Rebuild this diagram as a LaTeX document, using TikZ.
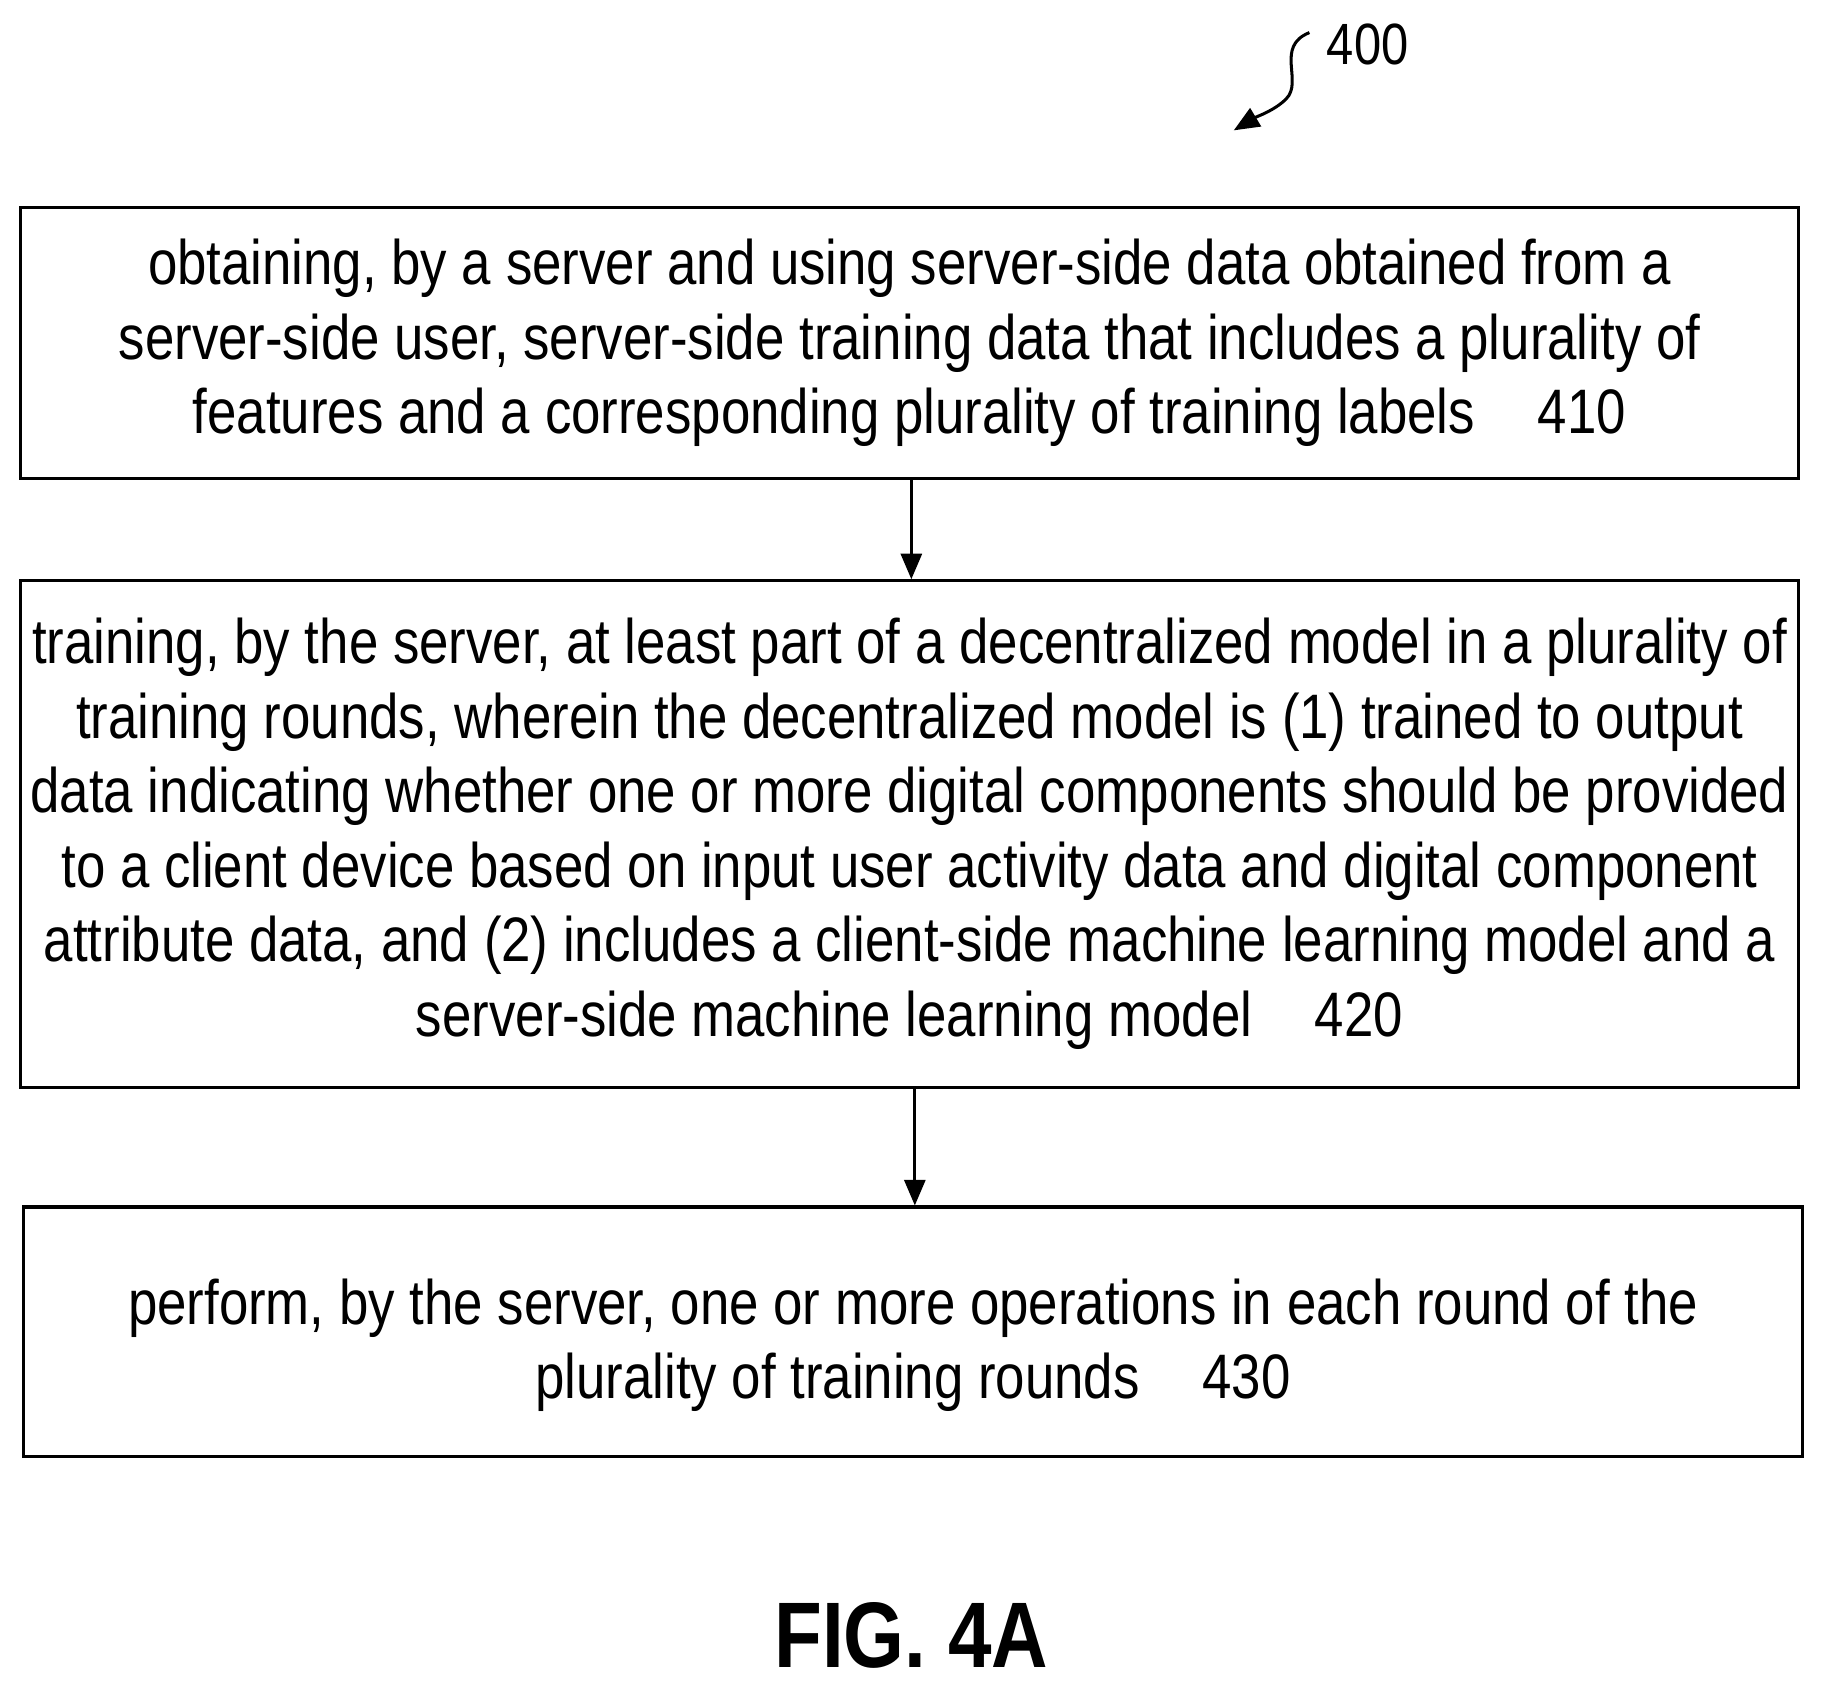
\documentclass[tikz,border=0pt]{standalone}
\usepackage{fontspec}
\setmainfont{Liberation Sans}[FakeStretch=0.84]
\newfontfamily\figfont{Liberation Sans}[FakeStretch=0.84]
\usetikzlibrary{arrows.meta}
\begin{document}
\begin{tikzpicture}[x=0.5pt,y=-0.5pt,
  box/.style={draw,line width=1.3pt,inner sep=0pt},
  txt/.style={align=center,font=\fontsize{27}{32}\selectfont},
  arr/.style={-{Triangle[length=11pt,width=9pt]},line width=1.3pt}]
\useasboundingbox (0,0) rectangle (1568,1453);
\node[box,minimum width=1527*0.5pt,minimum height=233*0.5pt] (b1) at (781.5,294.5) {};
\node[txt] at (b1.center) {obtaining, by a server and using server-side data obtained from a\\server-side user, server-side training data that includes a plurality of\\features and a corresponding plurality of training labels\quad 410};
\node[box,minimum width=1527*0.5pt,minimum height=435*0.5pt] (b2) at (781.5,716.5) {};
\node[txt] at (b2.center) {training, by the server, at least part of a decentralized model in a plurality of\\training rounds, wherein the decentralized model is (1) trained to output\\data indicating whether one or more digital components should be provided\\to a client device based on input user activity data and digital component\\attribute data, and (2) includes a client-side machine learning model and a\\server-side machine learning model\quad 420};
\node[box,minimum width=1529*0.5pt,minimum height=214*0.5pt] (b3) at (784.5,1144) {};
\node[txt] at (784.5,1156) {perform, by the server, one or more operations in each round of the\\plurality of training rounds\quad 430};
\draw[arr] (b1.south -| 783,0) -- (b2.north -| 783,0);
\draw[arr] (b2.south -| 786,0) -- (b3.north -| 786,0);
\node[font=\figfont\bfseries\fontsize{40}{44}\selectfont] (fig) at (783,1405) {FIG. 4A};
\node[font=\fontsize{25}{30}\selectfont,anchor=west] (lbl) at (1133,38) {400};
\coordinate (s) at (1125,28);
\coordinate (e) at (1060,112);
\draw[arr] (s) .. controls (1095,40) and (1120,70) .. (1105,85) .. controls (1095,95) and (1080,100) .. (e);
\end{tikzpicture}
\end{document}
